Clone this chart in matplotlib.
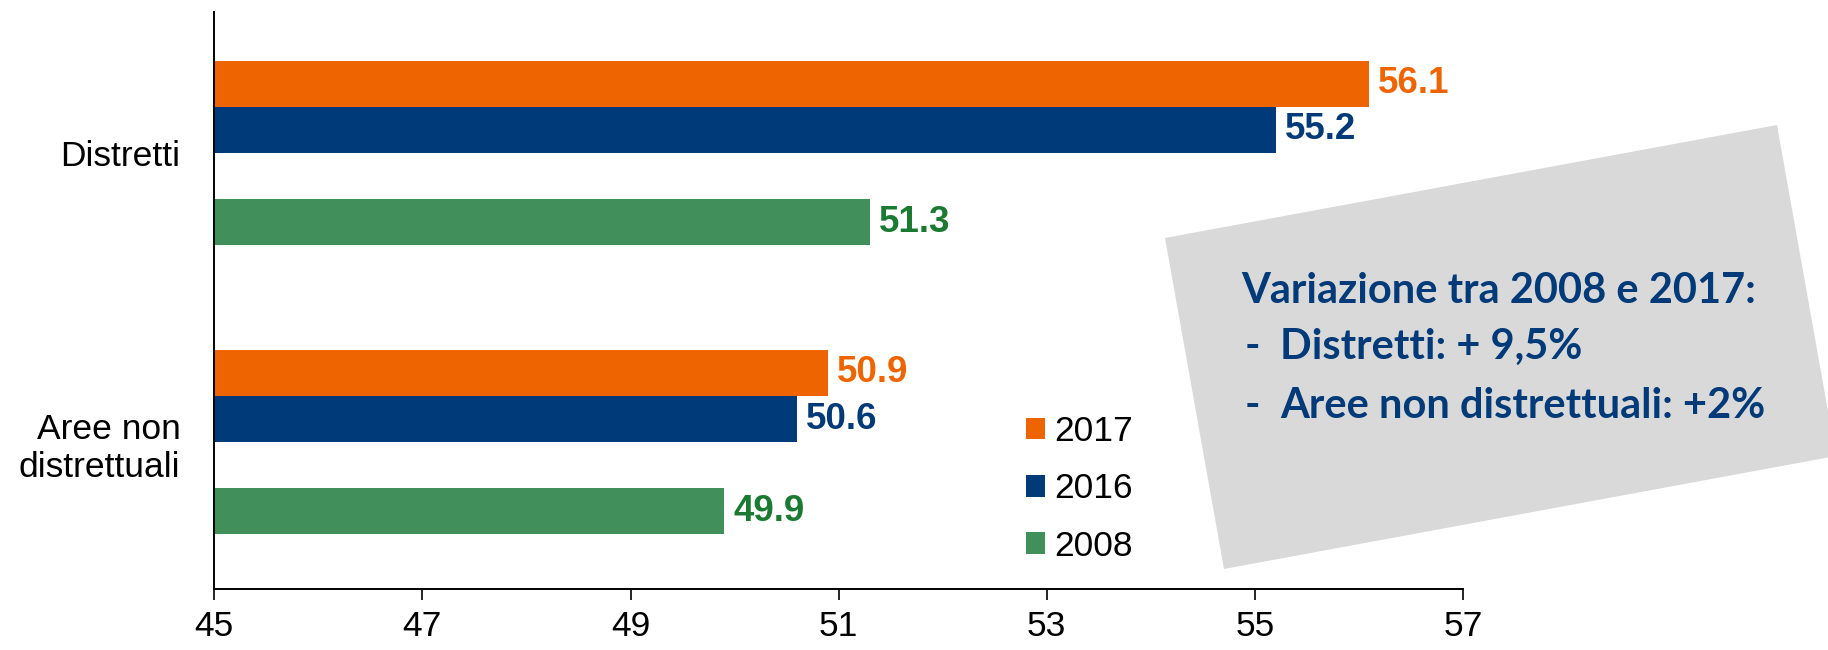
import numpy as np
import matplotlib
matplotlib.use('Agg')
from matplotlib import pyplot as plt
from matplotlib.patches import Polygon

categories = ['Distretti', 'Aree non\ndistrettuali']
years = ['2017', '2016', '2008']
values_2017 = [56.1, 50.9]
values_2016 = [55.2, 50.6]
values_2008 = [51.3, 49.9]
x_ticks = [45, 47, 49, 51, 53, 55, 57]

bar_colors = ['#ED6400', '#003A78', '#418F5A']
label_colors = ['#ED6400', '#003A78', '#1A7A32']
box_lines = ['Variazione tra 2008 e 2017:', 'Distretti: + 9,5%', 'Aree non distrettuali: +2%']

plt.rcParams['font.family'] = ['Liberation Sans', 'DejaVu Sans']

W, H = 1828, 650
fig = plt.figure(figsize=(W / 100, H / 100), dpi=100)
ax = fig.add_axes([214.3 / W, 1 - 589.3 / H, (1463 - 214.3) / W, (589.3 - 11.7) / H])

# slots inside each group: 2017, 2016, (empty), 2008
group_step = 6.28
offsets = [0, 1, 3]
base = np.arange(len(categories)) * group_step

series = [values_2017, values_2016, values_2008]
for vals, off, col, lcol, yr in zip(series, offsets, bar_colors, label_colors, years):
    bars = ax.barh(base + off, np.array(vals) - 45, left=45, height=1.0,
                   color=col, label=yr)
    ax.bar_label(bars, labels=[f'{v:.1f}' for v in vals], padding=6.5,
                 fontsize=26.5, fontweight='bold', color=lcol)

ax.set_xlim(45, 57)
ax.set_ylim(10.98, -1.57)
ax.set_xticks(x_ticks)
ax.set_xticklabels([str(t) for t in x_ticks])
ax.set_yticks(base + 1.5)
ax.set_yticklabels(categories)
for lbl in ax.get_yticklabels():
    lbl.set_multialignment('right')

ax.spines['top'].set_visible(False)
ax.spines['right'].set_visible(False)
for s in ['left', 'bottom']:
    ax.spines[s].set_linewidth(1.4)
    ax.spines[s].set_color('black')
ax.tick_params(axis='y', length=0, pad=24.5, labelsize=25.5)
ax.tick_params(axis='x', length=7.7, width=1.2, pad=7, labelsize=25.5)

ax.legend(loc='center left', bbox_to_anchor=(1026 / W, 1 - 489 / H),
          bbox_transform=fig.transFigure, frameon=False, fontsize=25.5,
          handlelength=0.54, handleheight=0.54, handletextpad=0.25,
          labelspacing=0.68, borderpad=0, borderaxespad=0)

# tilted grey box with the summary
tl = np.array([1165, H - 238])
tr = np.array([1777, H - 125])
bl = np.array([1224, H - 569])
br = tr + (bl - tl)
corners = np.array([tl, tr, br, bl]) / np.array([W, H])
fig.patches.append(Polygon(corners, closed=True, transform=fig.transFigure,
                           facecolor='#D9D9D9', edgecolor='none', zorder=0))

txt_kw = dict(transform=fig.transFigure, color='#003A78', fontweight='bold',
              fontsize=30, family=['Lato', 'DejaVu Sans'], va='center', ha='left')
fig.text(1241 / W, 1 - 291 / H, box_lines[0], **txt_kw)
fig.text(1245 / W, 1 - 347 / H, '-', **txt_kw)
fig.text(1280 / W, 1 - 347 / H, box_lines[1], **txt_kw)
fig.text(1245 / W, 1 - 406 / H, '-', **txt_kw)
fig.text(1280 / W, 1 - 406 / H, box_lines[2], **txt_kw)

fig.savefig('out.png', dpi=100)
